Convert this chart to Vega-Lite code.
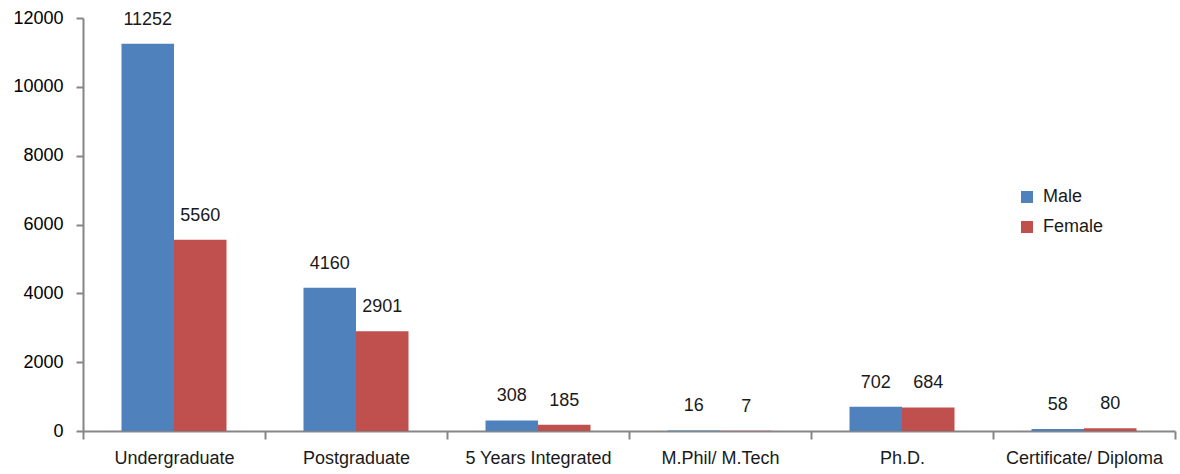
{
  "$schema": "https://vega.github.io/schema/vega-lite/v6.json",
  "width": 1092,
  "height": 413,
  "autosize": "none",
  "padding": {"left": 83, "top": 18, "right": 5, "bottom": 43},
  "background": "white",
  "config": {
    "view": {"stroke": null},
    "font": "Liberation Sans"
  },
  "data": {
    "values": [
      {"category": "Undergraduate", "sex": "Male", "value": 11252},
      {"category": "Undergraduate", "sex": "Female", "value": 5560},
      {"category": "Postgraduate", "sex": "Male", "value": 4160},
      {"category": "Postgraduate", "sex": "Female", "value": 2901},
      {"category": "5 Years Integrated", "sex": "Male", "value": 308},
      {"category": "5 Years Integrated", "sex": "Female", "value": 185},
      {"category": "M.Phil/ M.Tech", "sex": "Male", "value": 16},
      {"category": "M.Phil/ M.Tech", "sex": "Female", "value": 7},
      {"category": "Ph.D.", "sex": "Male", "value": 702},
      {"category": "Ph.D.", "sex": "Female", "value": 684},
      {"category": "Certificate/ Diploma", "sex": "Male", "value": 58},
      {"category": "Certificate/ Diploma", "sex": "Female", "value": 80}
    ]
  },
  "encoding": {
    "x": {
      "field": "category",
      "type": "nominal",
      "sort": null,
      "title": null,
      "scale": {"paddingInner": 0, "paddingOuter": 0},
      "axis": {
        "labelAngle": 0,
        "tickBand": "extent",
        "domainColor": "#868686",
        "domainWidth": 2,
        "tickColor": "#868686",
        "tickWidth": 2,
        "tickSize": 8,
        "labelFontSize": 18,
        "labelColor": "#1a1a1a",
        "labelPadding": 10
      }
    },
    "xOffset": {
      "field": "sex",
      "type": "nominal",
      "sort": ["Male", "Female"],
      "scale": {"paddingInner": 0, "paddingOuter": 0.733}
    },
    "y": {
      "field": "value",
      "type": "quantitative",
      "title": null,
      "scale": {"domain": [0, 12000], "nice": false},
      "axis": {
        "values": [0, 2000, 4000, 6000, 8000, 10000, 12000],
        "format": "d",
        "grid": false,
        "domainColor": "#868686",
        "domainWidth": 2,
        "tickColor": "#868686",
        "tickWidth": 2,
        "tickSize": 7,
        "labelFontSize": 18,
        "labelColor": "#000000",
        "labelPadding": 13
      }
    }
  },
  "layer": [
    {
      "mark": {"type": "bar"},
      "encoding": {
        "color": {
          "field": "sex",
          "type": "nominal",
          "sort": ["Male", "Female"],
          "scale": {"domain": ["Male", "Female"], "range": ["#4F81BD", "#C0504D"]},
          "legend": {
            "title": null,
            "orient": "none",
            "legendX": 935,
            "legendY": 170,
            "symbolType": "square",
            "symbolSize": 144,
            "symbolStrokeWidth": 0,
            "labelFontSize": 18,
            "labelColor": "#1a1a1a",
            "labelOffset": 7,
            "rowPadding": 12
          }
        }
      }
    },
    {
      "mark": {"type": "text", "baseline": "bottom", "dy": -15, "fontSize": 18, "color": "#1a1a1a"},
      "encoding": {
        "text": {"field": "value", "type": "quantitative", "format": "d"}
      }
    }
  ]
}
